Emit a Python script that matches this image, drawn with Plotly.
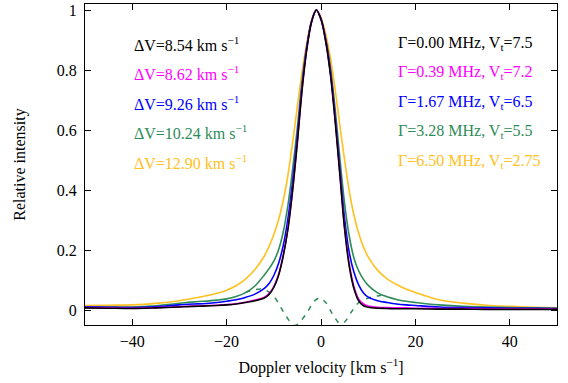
import plotly.graph_objects as go

velocity = [-50, -45, -40, -35, -30, -27, -25, -22, -20, -18, -16, -14, -12, -11, -10,
            -9, -8, -7, -6, -5, -4, -3, -2, -1, 0, 1, 2, 3, 4, 5, 6, 7, 8, 9, 10,
            12, 14, 16, 18, 20, 25, 30, 35, 40, 45, 50]

black_vals = [.007, .006, .005, .007, .010, .012, .013, .015, .017, .02, .025, .031, .04, .052, .075,
              .115, .18, .27, .40, .56, .735, .87, .96, 1.0, .97, .895, .785, .63, .45, .27, .145, .07, .03, .014, .009,
              .006, .005, .004, .004, .004, .003, .003, .002, .002, .002, .002]
magenta_vals = [.008, .007, .006, .008, .011, .013, .014, .016, .018, .021, .026, .033, .043, .055, .078,
                .118, .183, .274, .404, .564, .738, .872, .961, 1.0, .971, .897, .788, .634, .455, .276, .152, .077, .036, .02, .013,
                .009, .008, .007, .007, .006, .005, .005, .004, .004, .004, .003]
blue_vals = [.011, .009, .008, .011, .017, .02, .021, .025, .029, .034, .042, .053, .072, .088, .115,
             .155, .215, .305, .43, .58, .75, .878, .962, 1.0, .968, .90, .795, .645, .47, .305, .19, .125, .083, .057, .043,
             .031, .025, .02, .017, .015, .01, .008, .007, .006, .006, .005]
green_vals = [.01, .01, .01, .014, .022, .027, .029, .033, .037, .045, .058, .08, .117, .138, .163,
              .20, .26, .35, .47, .61, .765, .882, .963, 1.0, .97, .905, .81, .67, .505, .355, .245, .172, .13, .102, .082,
              .057, .044, .035, .029, .025, .017, .012, .01, .008, .007, .006]
yellow_vals = [.015, .016, .017, .022, .031, .039, .045, .056, .066, .081, .103, .135, .18, .212, .252,
               .30, .365, .45, .56, .68, .795, .89, .965, 1.0, .975, .92, .84, .735, .615, .50, .395, .315, .255, .21, .177,
               .132, .104, .085, .07, .058, .034, .023, .016, .012, .009, .007]

dashed_v = [-16, -14, -12, -10, -8, -6.5, -5.5, -4.5, -3, -1.5, -0.3, 1, 2.5, 4, 5, 6.5, 8, 10, 12, 13]
dashed_y = [0.058, 0.068, 0.068, 0.045, -0.005, -0.04, -0.052, -0.04, -0.01, 0.028, 0.04, 0.025,
            -0.015, -0.045, -0.04, -0.005, 0.025, 0.04, 0.047, 0.05]

left_labels = ["ΔV=8.54 km s<sup>−1</sup>", "ΔV=8.62 km s<sup>−1</sup>", "ΔV=9.26 km s<sup>−1</sup>",
               "ΔV=10.24 km s<sup>−1</sup>", "ΔV=12.90 km s<sup>−1</sup>"]
right_labels = ["Γ=0.00 MHz, V<sub>t</sub>=7.5", "Γ=0.39 MHz, V<sub>t</sub>=7.2", "Γ=1.67 MHz, V<sub>t</sub>=6.5",
                "Γ=3.28 MHz, V<sub>t</sub>=5.5", "Γ=6.50 MHz, V<sub>t</sub>=2.75"]
label_y = [0.888, 0.791, 0.691, 0.594, 0.494]

colors = ["#000000", "#ff00ff", "#0000ff", "#2e8b57", "#ffc020"]
series = [black_vals, magenta_vals, blue_vals, green_vals, yellow_vals]

FONT = "Liberation Serif, Times New Roman, serif"

fig = go.Figure()
fig.add_trace(go.Scatter(x=dashed_v, y=dashed_y, mode="lines",
                         line=dict(color="#2e8b57", width=1.5, dash="5px,6px", shape="spline", smoothing=1.0),
                         showlegend=False))
for vals, col in zip(reversed(series), reversed(colors)):
    fig.add_trace(go.Scatter(x=velocity, y=vals, mode="lines",
                             line=dict(color=col, width=1.6, shape="spline", smoothing=0.9),
                             showlegend=False))

for txt, yy, col in zip(left_labels, label_y, colors):
    fig.add_annotation(x=-40, y=yy, xref="x", yref="y", text=txt, showarrow=False,
                       xanchor="left", yanchor="middle", font=dict(color=col, size=16, family=FONT))
for txt, yy, col in zip(right_labels, label_y, colors):
    fig.add_annotation(x=15.8, y=yy, xref="x", yref="y", text=txt, showarrow=False,
                       xanchor="left", yanchor="middle", font=dict(color=col, size=16, family=FONT))

axis_common = dict(showline=True, linecolor="black", linewidth=1.2, mirror="ticks",
                   ticks="inside", ticklen=6, tickwidth=1, tickcolor="black",
                   showgrid=False, zeroline=False, automargin=False,
                   tickfont=dict(size=16, family=FONT, color="black"))

fig.update_xaxes(range=[-50, 50], tickvals=[-40, -20, 0, 20, 40],
                 title=dict(text="Doppler velocity [km s<sup>−1</sup>]", font=dict(size=16, family=FONT, color="black"), standoff=12),
                 ticklabelstandoff=2, **axis_common)
fig.update_yaxes(range=[-0.05, 1.02], tickvals=[0, 0.2, 0.4, 0.6, 0.8, 1],
                 ticktext=["0", "0.2", "0.4", "0.6", "0.8", "1"],
                 title=dict(text="Relative intensity", font=dict(size=16, family=FONT, color="black"), standoff=27),
                 ticklabelstandoff=4, **axis_common)

fig.update_layout(width=568, height=383, margin=dict(l=85, r=11, t=4, b=58),
                  paper_bgcolor="white", plot_bgcolor="white",
                  font=dict(family=FONT, size=16, color="black"))

fig.write_html("out.html", config={"displayModeBar": False},
               post_script="document.body.style.margin='0px';")
